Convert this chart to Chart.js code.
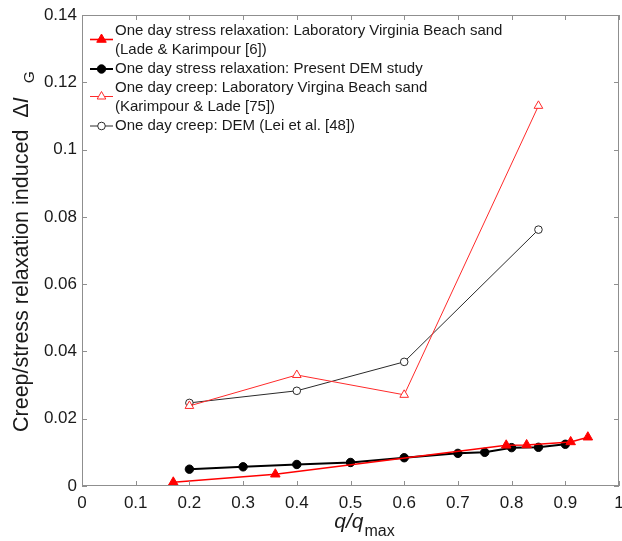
<!DOCTYPE html>
<html>
<head>
<meta charset="utf-8">
<script src="https://cdn.jsdelivr.net/npm/chart.js@4.4.0/dist/chart.umd.min.js"></script>
<style>
  body { margin: 0; background: #fff; overflow: hidden; }
  #wrap { width: 622px; height: 541px; }
  canvas { display: block; }
</style>
</head>
<body>
<div id="wrap"><canvas id="grafik"></canvas></div>
<script>
// values
const relaxLabX = [0.17, 0.36, 0.79, 0.828, 0.91, 0.942];
const relaxLabY = [0.0011, 0.0035, 0.0121, 0.0122, 0.0131, 0.0145];
const relaxDemX = [0.2, 0.3, 0.4, 0.5, 0.6, 0.7, 0.75, 0.8, 0.85, 0.9];
const relaxDemY = [0.0050, 0.0057, 0.0064, 0.0070, 0.0084, 0.0097, 0.0100, 0.0114, 0.0115, 0.0124];
const creepLabX = [0.2, 0.4, 0.6, 0.85];
const creepLabY = [0.0238, 0.0330, 0.0271, 0.1130];
const creepDemX = [0.2, 0.4, 0.6, 0.85];
const creepDemY = [0.0247, 0.0283, 0.0369, 0.0762];

const xTicks = [0, 0.1, 0.2, 0.3, 0.4, 0.5, 0.6, 0.7, 0.8, 0.9, 1];
const yTicks = [0, 0.02, 0.04, 0.06, 0.08, 0.1, 0.12, 0.14];

const legendTexts = [
  ["One day stress relaxation: Laboratory Virginia Beach sand", "(Lade & Karimpour [6])"],
  ["One day stress relaxation: Present DEM study"],
  ["One day creep: Laboratory Virgina Beach sand", "(Karimpour & Lade [75])"],
  ["One day creep: DEM (Lei et al. [48])"]
];

const FONT = "'Liberation Sans', Arial, sans-serif";
Chart.defaults.font.family = FONT;
Chart.defaults.color = "#1a1a1a";

const punkte = (xs, ys) => xs.map((x, i) => ({ x: x, y: ys[i] }));
const etiket = v => String(+v.toFixed(2));
const sifirPadding = () => ({ left: 0, right: 0, top: 0, bottom: 0 });

// frame, inward ticks, axis titles and legend
const cerceve = {
  id: "cerceve",
  afterDraw(chart) {
    const ctx = chart.ctx;
    const a = chart.chartArea;
    const sx = chart.scales.x, sy = chart.scales.y;
    ctx.save();
    ctx.strokeStyle = "#8f8f8f";
    ctx.lineWidth = 1;
    ctx.strokeRect(Math.round(a.left) + 0.5, Math.round(a.top) + 0.5,
      Math.round(a.right - a.left) - 1, Math.round(a.bottom - a.top) - 1);
    ctx.beginPath();
    xTicks.forEach(v => {
      const p = Math.round(sx.getPixelForValue(v)) + 0.5;
      ctx.moveTo(p, a.bottom); ctx.lineTo(p, a.bottom - 5);
      ctx.moveTo(p, a.top); ctx.lineTo(p, a.top + 5);
    });
    yTicks.forEach(v => {
      const p = Math.round(sy.getPixelForValue(v)) + 0.5;
      ctx.moveTo(a.left, p); ctx.lineTo(a.left + 5, p);
      ctx.moveTo(a.right, p); ctx.lineTo(a.right - 5, p);
    });
    ctx.stroke();

    // x title: q/q_max
    ctx.fillStyle = "#1a1a1a";
    ctx.textBaseline = "alphabetic";
    ctx.textAlign = "left";
    ctx.font = "italic 21px " + FONT;
    const w1 = ctx.measureText("q/q").width;
    ctx.font = "16px " + FONT;
    const w2 = ctx.measureText("max").width;
    let x0 = 364 - (w1 + w2) / 2;
    ctx.font = "italic 21px " + FONT;
    ctx.fillText("q/q", x0, 528);
    ctx.font = "16px " + FONT;
    ctx.fillText("max", x0 + w1 + 1, 536);

    // y title
    ctx.save();
    ctx.translate(28, 432);
    ctx.rotate(-Math.PI / 2);
    let t = 0;
    ctx.font = "21.5px " + FONT;
    const govde = "Creep/stress relaxation induced  ";
    ctx.fillText(govde, t, 0);
    t += ctx.measureText(govde).width;
    ctx.fillText("\u0394", t, 0);
    t += ctx.measureText("\u0394").width;
    ctx.font = "italic 21.5px " + FONT;
    ctx.fillText("I", t, 0);
    t += ctx.measureText("I").width + 14;
    ctx.font = "15.5px " + FONT;
    ctx.fillText("G", t, 6);
    ctx.restore();

    // legend
    ctx.font = "15px " + FONT;
    ctx.textBaseline = "middle";
    let satir = 0;
    const ilk = 31, adim = 19;
    chart.data.datasets.forEach((ds, i) => {
      const lines = legendTexts[i];
      const yMid = ilk + adim * (satir + (lines.length - 1) / 2) - (lines.length > 1 ? 1 : 0);
      lines.forEach((s, k) => {
        ctx.fillStyle = "#1a1a1a";
        ctx.fillText(s, 115, ilk + adim * (satir + k));
      });
      ctx.strokeStyle = ds.borderColor;
      ctx.lineWidth = ds.borderWidth;
      ctx.beginPath();
      ctx.moveTo(90, yMid); ctx.lineTo(113, yMid);
      ctx.stroke();
      ctx.fillStyle = ds.pointBackgroundColor;
      ctx.strokeStyle = ds.borderColor;
      ctx.lineWidth = ds.pointBorderWidth;
      Chart.helpers.drawPoint(ctx, {
        pointStyle: ds.pointStyle, radius: ds.pointRadius, rotation: 0,
        borderWidth: ds.pointBorderWidth
      }, 101.5, yMid);
      satir += lines.length;
    });
    ctx.restore();
  }
};

new Chart(document.getElementById("grafik"), {
  type: "line",
  data: {
    datasets: [
      {
        data: punkte(relaxLabX, relaxLabY),
        borderColor: "#ff0000",
        backgroundColor: "#ff0000",
        pointBackgroundColor: "#ff0000",
        borderWidth: 1.6,
        pointBorderWidth: 1,
        pointStyle: "triangle",
        pointRadius: 5.5
      },
      {
        data: punkte(relaxDemX, relaxDemY),
        borderColor: "#000000",
        backgroundColor: "#000000",
        pointBackgroundColor: "#000000",
        borderWidth: 2,
        pointBorderWidth: 1,
        pointStyle: "circle",
        pointRadius: 4.2
      },
      {
        data: punkte(creepLabX, creepLabY),
        borderColor: "#ff2a2a",
        backgroundColor: "#ffffff",
        pointBackgroundColor: "#ffffff",
        borderWidth: 1,
        pointBorderWidth: 1,
        pointStyle: "triangle",
        pointRadius: 5
      },
      {
        data: punkte(creepDemX, creepDemY),
        borderColor: "#2a2a2a",
        backgroundColor: "#ffffff",
        pointBackgroundColor: "#ffffff",
        borderWidth: 1,
        pointBorderWidth: 1,
        pointStyle: "circle",
        pointRadius: 3.8
      }
    ]
  },
  options: {
    responsive: true,
    maintainAspectRatio: false,
    animation: false,
    devicePixelRatio: 1,
    layout: { autoPadding: false, padding: { top: 15, right: 3, left: 0, bottom: 0 } },
    elements: { line: { tension: 0, fill: false } },
    plugins: { legend: { display: false }, tooltip: { enabled: false } },
    scales: {
      x: {
        type: "linear",
        min: 0, max: 1,
        grid: { display: false, drawTicks: false },
        border: { display: false },
        afterBuildTicks: s => { s.ticks = xTicks.map(v => ({ value: v })); },
        afterFit: s => {
          s.height = 55; s.paddingLeft = 0; s.paddingRight = 0;
          s.getPadding = sifirPadding;
        },
        ticks: { padding: 7, font: { size: 17 }, maxRotation: 0, callback: etiket }
      },
      y: {
        type: "linear",
        min: 0, max: 0.14,
        grid: { display: false, drawTicks: false },
        border: { display: false },
        afterBuildTicks: s => { s.ticks = yTicks.map(v => ({ value: v })); },
        afterFit: s => {
          s.width = 82; s.paddingTop = 0; s.paddingBottom = 0;
          s.getPadding = sifirPadding;
        },
        ticks: { padding: 5, font: { size: 17 }, callback: etiket }
      }
    }
  },
  plugins: [cerceve]
});
</script>
</body>
</html>
